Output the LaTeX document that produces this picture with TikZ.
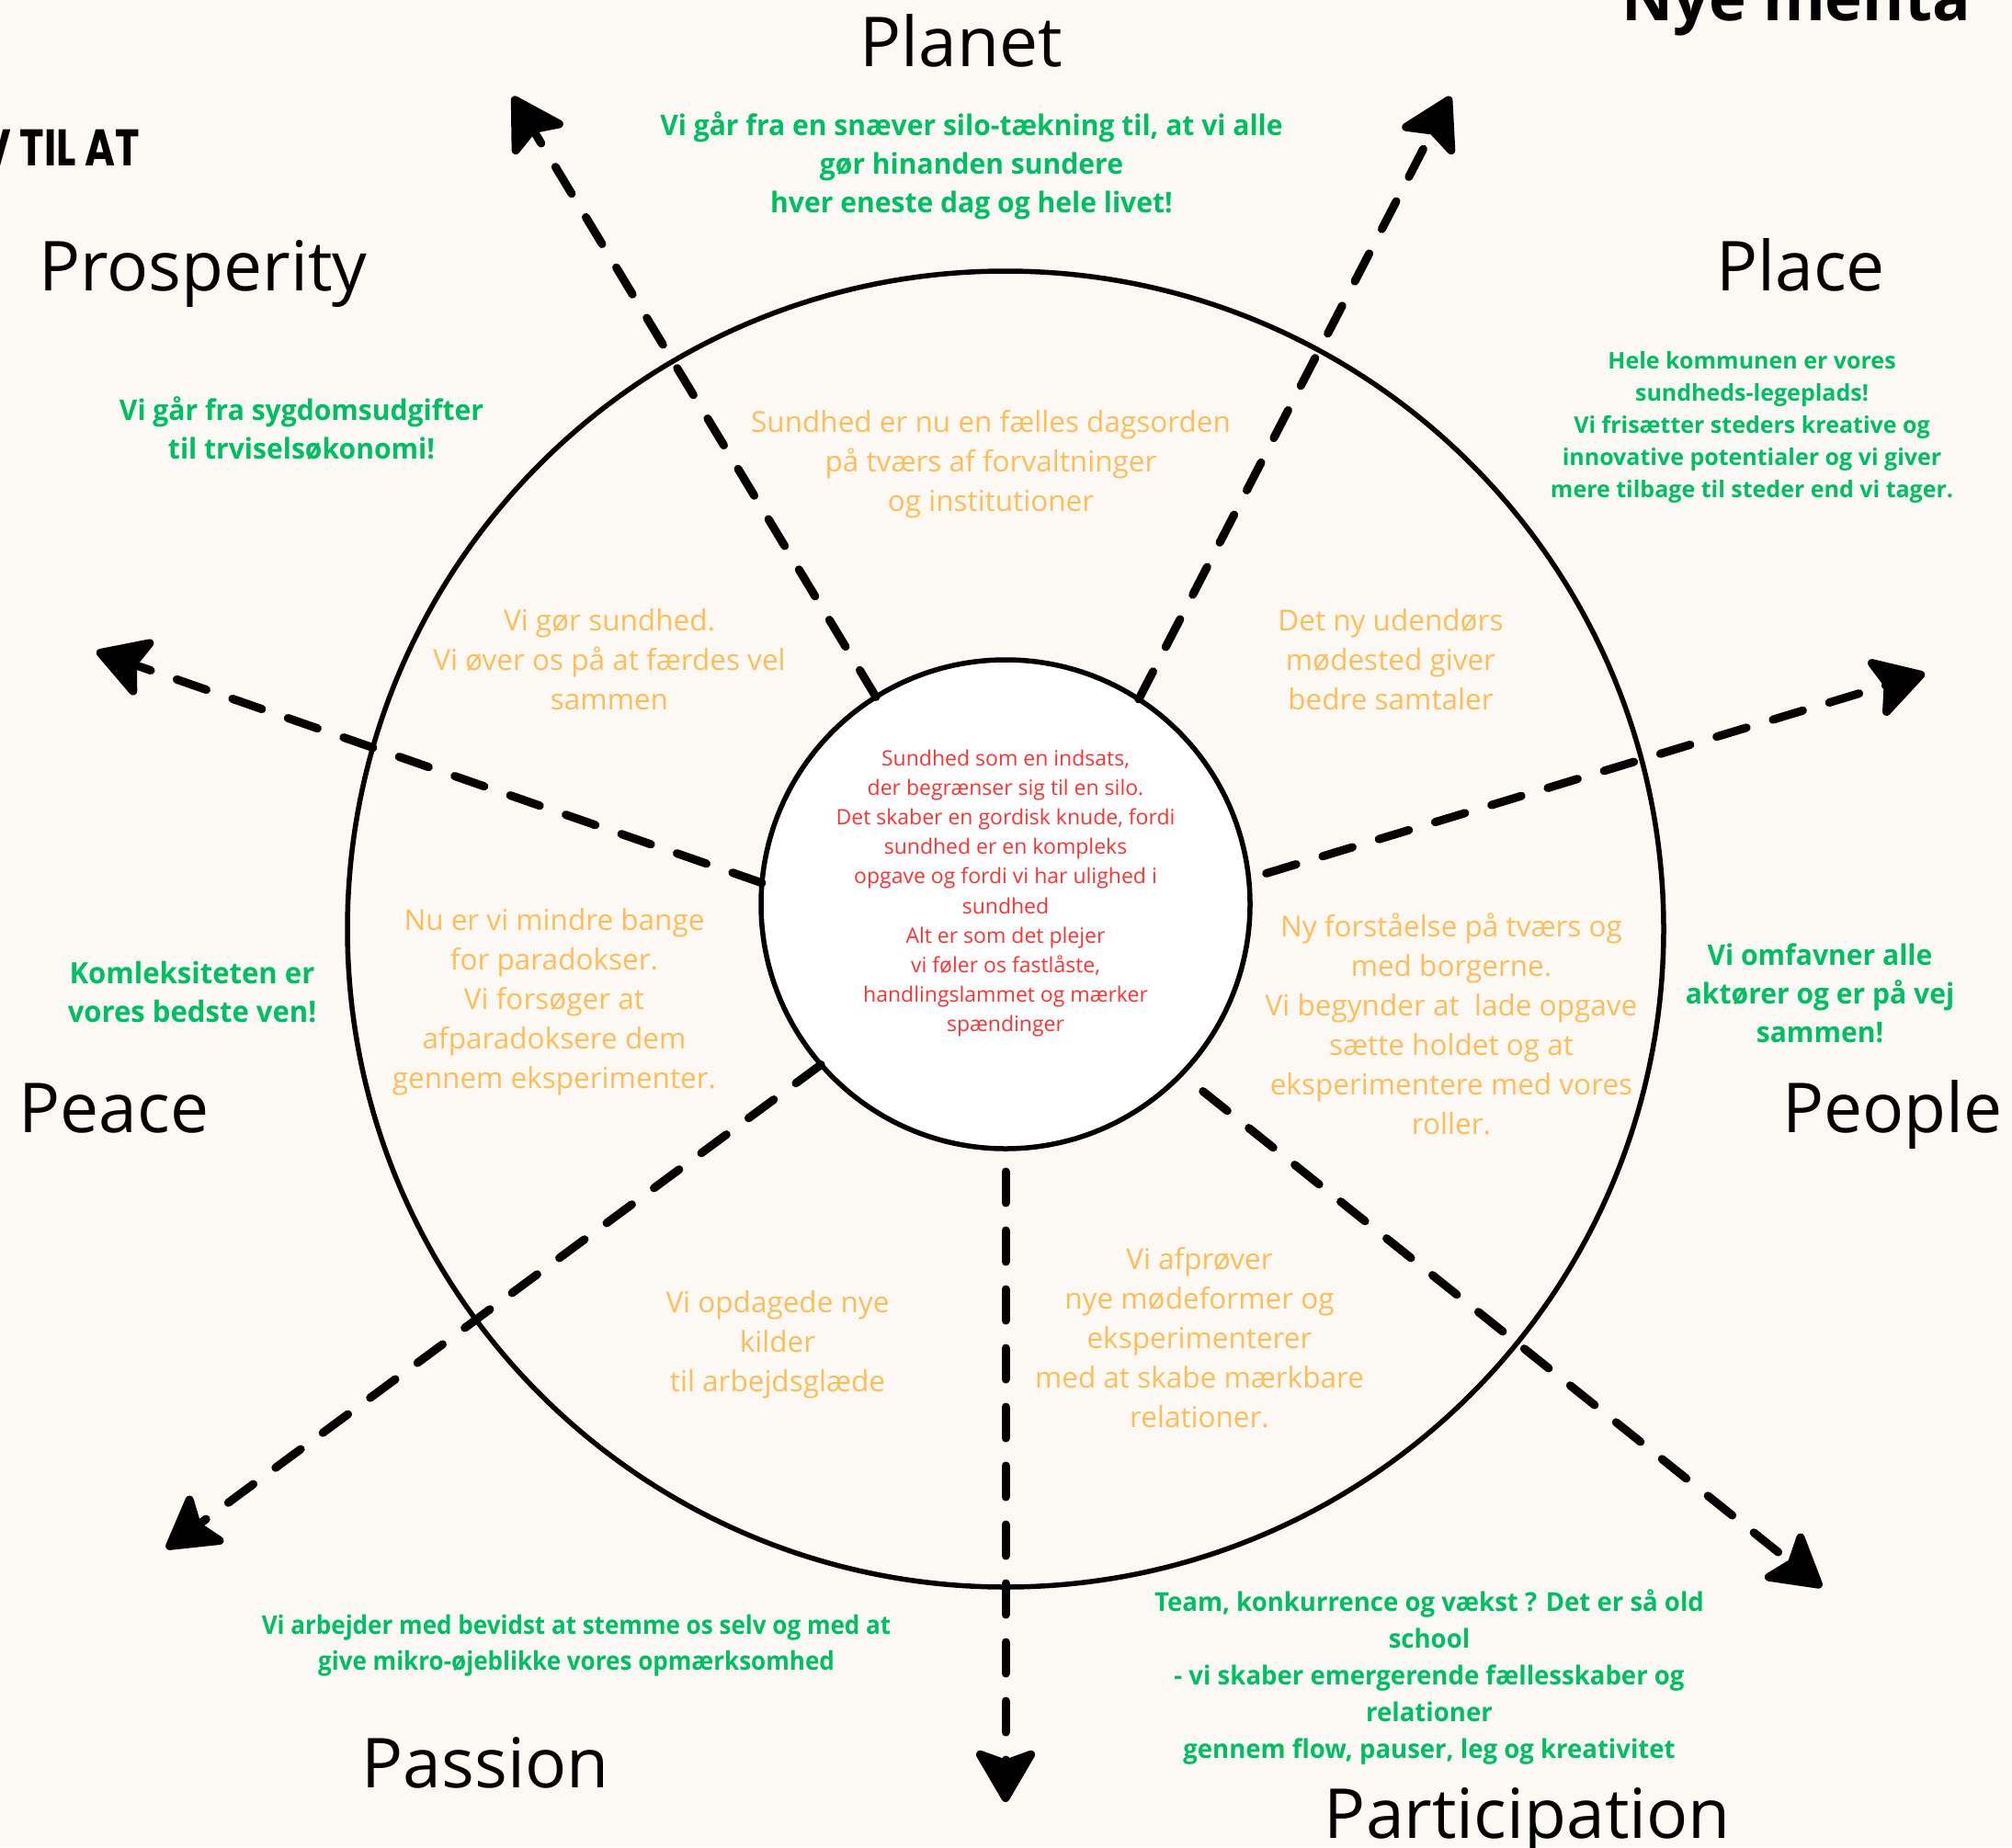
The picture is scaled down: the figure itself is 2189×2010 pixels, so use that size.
\documentclass[tikz,border=0pt]{standalone}
\usepackage{fontspec}
\setmainfont{Open Sans}
\newfontfamily\gfont[FakeStretch=0.97]{Open Sans}
\newfontfamily\gfontb[FakeStretch=0.93]{Open Sans}
\newfontfamily\pfont{Open Sans}
\newfontfamily\vfont[FakeStretch=0.8]{Poppins}
\usetikzlibrary{arrows.meta}
\definecolor{bg}{HTML}{FCF9F4}
\definecolor{grn}{HTML}{00BF63}
\definecolor{org}{HTML}{FFBD59}
\definecolor{rd}{HTML}{FF3131}
\tikzset{
  lbl/.style={inner sep=0pt, anchor=base, font=\fontsize{75}{80}\selectfont},
  gtxt/.style={inner sep=0pt, align=center, text=grn, font=\gfont\bfseries\fontsize{31}{42}\selectfont},
  gwide/.style={inner sep=0pt, align=center, text=grn, font=\gfont\bfseries\fontsize{32}{42}\selectfont},
  gsmall/.style={inner sep=0pt, align=center, text=grn, font=\gfontb\bfseries\fontsize{28}{39}\selectfont},
  gpart/.style={inner sep=0pt, align=center, text=grn, font=\gfont\bfseries\fontsize{28.4}{40}\selectfont},
  gplace/.style={inner sep=0pt, align=center, text=grn, font=\pfont\bfseries\fontsize{25}{35}\selectfont},
  otxt/.style={inner sep=0pt, align=center, text=org, font=\fontsize{31.5}{43}\selectfont},
  rtxt/.style={inner sep=0pt, align=center, text=rd, font=\fontsize{23}{32.1}\selectfont},
  ring/.style={circle, draw=black, line width=5.5pt, inner sep=0pt, outer sep=0pt},
  arr/.style={line width=9pt, line cap=round, dash pattern=on 34pt off 30pt,
    -{Stealth[length=64pt, width=74pt, inset=13pt, round]}}
}
\begin{document}
\begin{tikzpicture}[x=1pt, y=-1pt]
\useasboundingbox (0,0) rectangle (2189,2010);
\fill[bg] (0,0) rectangle (2189,2010);

% headings cut at page edges
\node[inner sep=0pt, anchor=base west, font=\pfont\bfseries\fontsize{69}{80}\selectfont] (nye) at (1764,23) {Nye menta};
\node[inner sep=0pt, anchor=base east, font=\vfont\bfseries\fontsize{56}{60}\selectfont] (til) at (152,180) {V TIL AT};

% circles
\node[ring, minimum size=1432pt] (outer) at (1094,1011) {};
\node[ring, minimum size=532pt, fill=white] (inner) at (1094,984) {};

% arrow tips
\coordinate (t1) at (558,105);
\coordinate (t2) at (1578,105);
\coordinate (t3) at (2094,733);
\coordinate (t4) at (105,709);
\coordinate (t5) at (181,1685);
\coordinate (t6) at (1094,1961);
\coordinate (t7) at (1982,1727);

\draw[arr] (inner.122.7) -- (t1);
\draw[arr] (inner.57.5) -- (t2);
\draw[arr, shorten <=20pt] (inner.6.2) -- (t3);
\draw[arr] (inner.175.5) -- (t4);
\draw[arr] (inner.221.7) -- (t5);
\draw[arr, shorten <=25pt] (inner.270) -- (t6);
\draw[arr, shorten <=30pt] (inner.-44.5) -- (t7);

% labels
\node[lbl] (planet) at (1046,72) {Planet};
\node[lbl] (prosperity) at (221,316) {Prosperity};
\node[lbl] (place) at (1959,316) {Place};
\node[lbl] (peace) at (124,1232) {Peace};
\node[lbl] (people) at (2059,1232) {People};
\node[lbl] (passion) at (528,1945) {Passion};
\node[lbl] (participation) at (1662,2000) {Participation};

% green texts
\node[gtxt] (gplanet) at (1057,180) {Vi går fra en snæver silo-tækning til, at vi alle\\gør hinanden sundere\\hver eneste dag og hele livet!};
\node[gtxt] (gprosp) at (328,466) {Vi går fra sygdomsudgifter\\til trviselsøkonomi!};
\node[gplace] (gplc) at (1906,465) {Hele kommunen er vores\\sundheds-legeplads!\\Vi frisætter steders kreative og\\innovative potentialer og vi giver\\mere tilbage til steder end vi tager.};
\node[gwide] (gpeace) at (209,1080) {Komleksiteten er\\vores bedste ven!};
\node[gtxt] (gpeople) at (1980,1081) {Vi omfavner alle\\aktører og er på vej\\sammen!};
\node[gsmall] (gpassion) at (627,1791) {Vi arbejder med bevidst at stemme os selv og med at\\give mikro-øjeblikke vores opmærksomhed};
\node[gpart] (gpart) at (1555,1825) {Team, konkurrence og vækst ? Det er så old\\school\\- vi skaber emergerende fællesskaber og\\relationer\\gennem flow, pauser, leg og kreativitet};

% orange texts
\node[otxt] (o1) at (1078,505) {Sundhed er nu en fælles dagsorden\\på tværs af forvaltninger\\og institutioner};
\node[otxt] (o2) at (663,718) {Vi gør sundhed.\\Vi øver os på at færdes vel\\sammen};
\node[otxt] (o3) at (1513,718) {Det ny udendørs\\mødested giver\\bedre samtaler};
\node[otxt] (o4) at (603,1090) {Nu er vi mindre bange\\for paradokser.\\Vi forsøger at\\afparadoksere dem\\gennem eksperimenter.};
\node[otxt] (o5) at (1579,1114) {Ny forståelse på tværs og\\med borgerne.\\Vi begynder at\ \ lade opgave\\sætte holdet og at\\eksperimentere med vores\\roller.};
\node[otxt] (o6) at (846,1463) {Vi opdagede nye\\kilder\\til arbejdsglæde};
\node[otxt] (o7) at (1305,1456) {Vi afprøver\\nye mødeformer og\\eksperimenterer\\med at skabe mærkbare\\relationer.};

% red centre text
\node[rtxt] (rtext) at (1094,972) {Sundhed som en indsats,\\der begrænser sig til en silo.\\Det skaber en gordisk knude, fordi\\sundhed er en kompleks\\opgave og fordi vi har ulighed i\\sundhed\\Alt er som det plejer\\vi føler os fastlåste,\\handlingslammet og mærker\\spændinger};
\end{tikzpicture}
\end{document}
